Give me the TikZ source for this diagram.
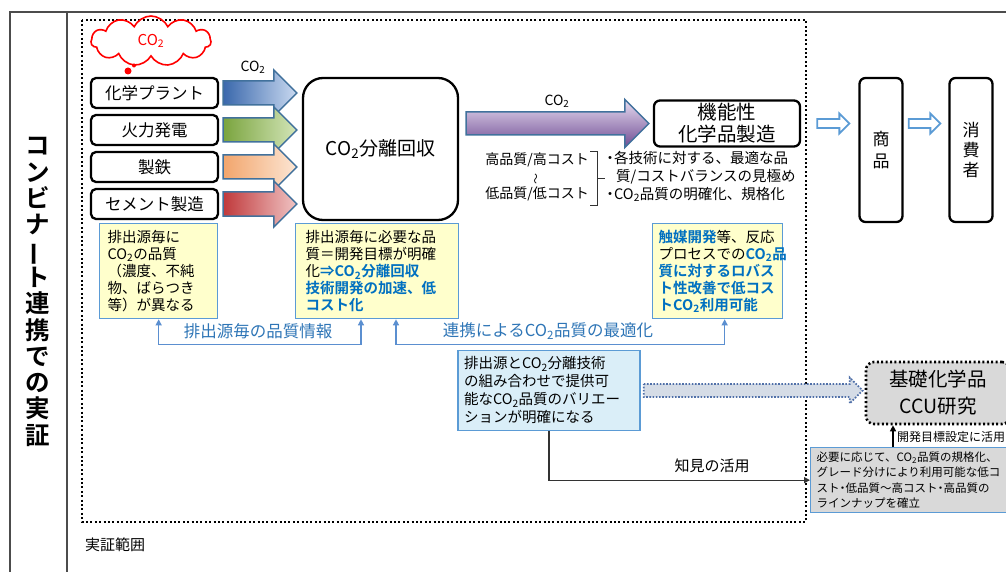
\documentclass[tikz,border=0pt]{standalone}
\usepackage{fontspec}
\usepackage{graphicx}
\setmainfont{Noto Sans CJK JP}[BoldFont={Noto Sans CJK JP Bold}]
\usetikzlibrary{calc,shapes.symbols,arrows.meta}
\definecolor{yfill}{HTML}{FFFFCC}
\definecolor{bbord}{HTML}{5B9BD5}
\definecolor{lblc}{HTML}{2E75B6}
\definecolor{emphc}{HTML}{0070C0}
\definecolor{dfill}{HTML}{DAEEF8}
\definecolor{gfill}{HTML}{D9D9D9}
\definecolor{arrb}{HTML}{41719C}
\definecolor{connc}{HTML}{5B8FD0}
\definecolor{bluL}{HTML}{C9D9F0}
\definecolor{bluD}{HTML}{3A68AC}
\definecolor{grnL}{HTML}{D3E5B8}
\definecolor{grnD}{HTML}{7AA43E}
\definecolor{orgL}{HTML}{FCE6D4}
\definecolor{orgD}{HTML}{F2A56C}
\definecolor{redL}{HTML}{F0C4C4}
\definecolor{redD}{HTML}{C0393B}
\definecolor{purT}{HTML}{E6DCF0}
\definecolor{purB}{HTML}{6F4B93}
\definecolor{dotarr}{HTML}{D5DCE6}
\definecolor{dotbord}{HTML}{4F6FA8}
\newcommand\myfs[2]{\fontsize{#1}{#2}\selectfont}
\newcommand\cotwo{CO\textsubscript{2}}
\newcommand\blemph[1]{\textcolor{emphc}{\textbf{#1}}}
\newcommand\ndot{\makebox[6pt][c]{・}}
% #1 options, #2 start, #3 end, #4 shaft half width, #5 head half width (= head length)
\newcommand\fatarrow[5]{%
  \path[#1] let \p1=#2, \p2=#3 in
    (\x1,\y1+#4pt) -- (\x2-#5pt,\y1+#4pt) -- (\x2-#5pt,\y1+#5pt) -- (\x2,\y1)
    -- (\x2-#5pt,\y1-#5pt) -- (\x2-#5pt,\y1-#4pt) -- (\x1,\y1-#4pt) -- cycle;}
\begin{document}
\begin{tikzpicture}[x=1pt,y=-1pt,
  framel/.style={draw=black!70, line width=1.2},
  srcbox/.style={draw, line width=2.3, rounded corners=5, minimum width=127, minimum height=30, inner sep=0, font=\myfs{16.5}{18}},
  bigbox/.style={draw, line width=2.3, rounded corners=6, inner sep=0, align=center},
  ybox/.style={draw=bbord, line width=1.3, fill=yfill, anchor=north west, align=left, inner ysep=0, minimum height=95, font=\myfs{14.5}{17}},
  lbltext/.style={text=lblc, font=\myfs{16.5}{18}},
  bconn/.style={draw=connc, line width=1.3, {Triangle[width=6,length=6]}-{Triangle[width=6,length=6]}},
  srcarrow/.style={draw=arrb, line width=1.5},
  openarr/.style={draw=bbord, fill=white, line width=1.8},
]
\useasboundingbox (0,0) rectangle (1006,572);

% frame
\draw[framel] (10,572) -- (10,12) -- (1006,12);
\draw[framel] (67,12) -- (67,572);
\node[font=\bfseries\myfs{24.5}{26.3}, align=center, inner sep=0] (title) at (38,292)
  {コ\\ン\\ビ\\ナ\\\rotatebox[origin=c]{90}{ー}\\ト\\連\\携\\で\\の\\実\\証};

% demonstration scope
\draw[line width=2, dash pattern=on 2pt off 2.4pt] (82,20) rectangle (806,522);
\node[anchor=west, font=\myfs{15}{18}, inner sep=0] (scopelbl) at (85,545) {実証範囲};

% cloud
\node[cloud, cloud puffs=11, cloud puff arc=130, aspect=2.4, draw=red, line width=1.6,
  minimum width=120, minimum height=50, inner sep=0, text=red, font=\myfs{15}{18}] (cloud) at (151,41) {\cotwo};
\fill[red] (128,71) circle (3.5);
\fill[red] (134,65.5) circle (2);

% sources
\node[srcbox] (s1) at (154.5,93) {化学プラント};
\node[srcbox] (s2) at (154.5,130) {火力発電};
\node[srcbox] (s3) at (154.5,167) {製鉄};
\node[srcbox] (s4) at (154.5,204) {セメント製造};

% separation box
\node[bigbox, minimum width=155, minimum height=142, rounded corners=20, font=\myfs{19}{22}] (sep) at (380.5,149) {\cotwo 分離回収};

% source arrows
\fatarrow{srcarrow, left color=bluD, right color=bluL}{($(s1.east)+(4,0)$)}{($(sep.west |- s1)+(-5,0)$)}{12}{23}
\fatarrow{srcarrow, left color=grnD, right color=grnL}{($(s2.east)+(4,0)$)}{($(sep.west |- s2)+(-5,0)$)}{12}{23}
\fatarrow{srcarrow, left color=orgD, right color=orgL}{($(s3.east)+(4,0)$)}{($(sep.west |- s3)+(-5,0)$)}{12}{23}
\fatarrow{srcarrow, left color=redD, right color=redL}{($(s4.east)+(4,0)$)}{($(sep.west |- s4)+(-5,0)$)}{12}{23}
\node[font=\myfs{14}{16}] (co2a) at (253,67) {\cotwo};

% functional chemicals
\node[bigbox, minimum width=146, minimum height=46, font=\myfs{19.5}{22}] (chem) at (727,123.5) {機能性\\化学品製造};
\fatarrow{srcarrow, top color=purT, bottom color=purB}{($(sep.east |- chem)+(7,0)$)}{($(chem.west)+(-4,0)$)}{11.5}{24}
\node[font=\myfs{14}{16}] (co2b) at (557,101) {\cotwo};

% trade-off
\node[font=\myfs{14}{17}, align=center, inner sep=0] (trade) at (537,177)
  {高品質/高コスト\\{\myfs{11}{17}\rotatebox[origin=c]{90}{～}}\\低品質/低コスト};
\draw[line width=0.9, black!80] (590,151) -- (597,151) -- (597,205) -- (590,205)
  (597,178) -- (605,178);
\node[anchor=north west, font=\myfs{14.5}{18}, align=left, inner sep=0] (notes) at (606,151)
  {\makebox[8pt][c]{・}各技術に対する、最適な品\\\hspace*{10pt}質/コストバランスの見極め\\\makebox[8pt][c]{・}\cotwo 品質の明確化、規格化};

% goods and consumers
\node[bigbox, minimum width=43, minimum height=144, font=\myfs{17}{22}] (goods) at (881,150) {商\\品};
\node[bigbox, minimum width=43, minimum height=144, font=\myfs{17}{20}] (cons) at (971,150) {消\\費\\者};
\coordinate (oa) at ($(chem.east)+(16,0)$);
\fatarrow{openarr}{(oa)}{($(goods.west |- oa)+(-9,0)$)}{4.5}{10}
\fatarrow{openarr}{($(goods.east |- oa)+(5,0)$)}{($(cons.west |- oa)+(-8,0)$)}{4.5}{10}

% yellow boxes
\node[ybox, minimum width=118, inner xsep=8, text width=102] (yA) at (99,223)
  {排出源毎に\\\cotwo の品質\\（濃度、不純\\物、ばらつき\\等）が異なる};
\node[ybox, minimum width=163, inner xsep=10, text width=143] (yB) at (295,223)
  {排出源毎に必要な品\\質＝開発目標が明確\\化\blemph{⇒\cotwo 分離回収}\\\blemph{技術開発の加速、低}\\\blemph{コスト化}};
\node[ybox, minimum width=130, inner xsep=6, text width=118] (yC) at (652,223)
  {\blemph{触媒開発}等、反応\\プロセスでの\blemph{\cotwo 品}\\\blemph{質に対するロバス}\\\blemph{ト性改善で低コス}\\\blemph{ト\cotwo 利用可能}};

% blue connectors
\draw[bconn] (yA.south) -- ++(0,25) -| ($(yB.south west)+(66,0)$);
\draw[bconn] ($(yB.south west)+(101,0)$) -- ++(0,25) -| ($(yC.south)+(7,0)$);
\node[lbltext] (lbl1) at (258,331) {排出源毎の品質情報};
\node[lbltext] (lbl2) at (548,331) {連携による\cotwo 品質の最適化};

% variation box
\node[draw=bbord, line width=1.5, fill=dfill, align=left, minimum width=182, minimum height=80,
  inner xsep=6, text width=170, font=\myfs{14.5}{18}] (d) at (549,390.5)
  {排出源と\cotwo 分離技術\\の組み合わせで提供可\\能な\cotwo 品質のバリエー\\ションが明確になる};

% CCU research
\node[draw, line width=2.6, dash pattern=on 2pt off 2.4pt, rounded corners=8, fill=gfill,
  minimum width=144, minimum height=62, align=center, font=\myfs{19.5}{27}] (ccu) at (938,393)
  {基礎化学品\\CCU研究};
\fatarrow{draw=dotbord, fill=dotarr, line width=1.8, dash pattern=on 1.6pt off 1.6pt}{($(d.east)+(3,0)$)}{($(ccu.west |- d.east)+(-2,0)$)}{6.5}{13}

% lineup box
\node[draw=bbord, line width=1.3, fill=gfill, anchor=north west, align=left, minimum width=200,
  minimum height=65, inner xsep=6, text width=188, font=\myfs{11.5}{15.3}] (e) at (810,447)
  {必要に応じて、\cotwo 品質の規格化、\\グレード分けにより利用可能な低コ\\スト\ndot 低品質～高コスト\ndot 高品質の\\ラインナップを確立};
\coordinate (up) at (893,0);
\draw[line width=1.3, -{Triangle[width=6,length=6]}] (e.north -| up) -- (ccu.south -| up);
\node[anchor=west, font=\myfs{12}{15}, inner sep=0] (uplbl) at (897,437) {開発目標設定に活用};

% knowledge
\draw[line width=1.3, black!80, -{Triangle[width=6,length=6]}] (d.south) |- (e.west);
\node[font=\myfs{15}{18}] (know) at (712,466) {知見の活用};
\end{tikzpicture}
\end{document}
